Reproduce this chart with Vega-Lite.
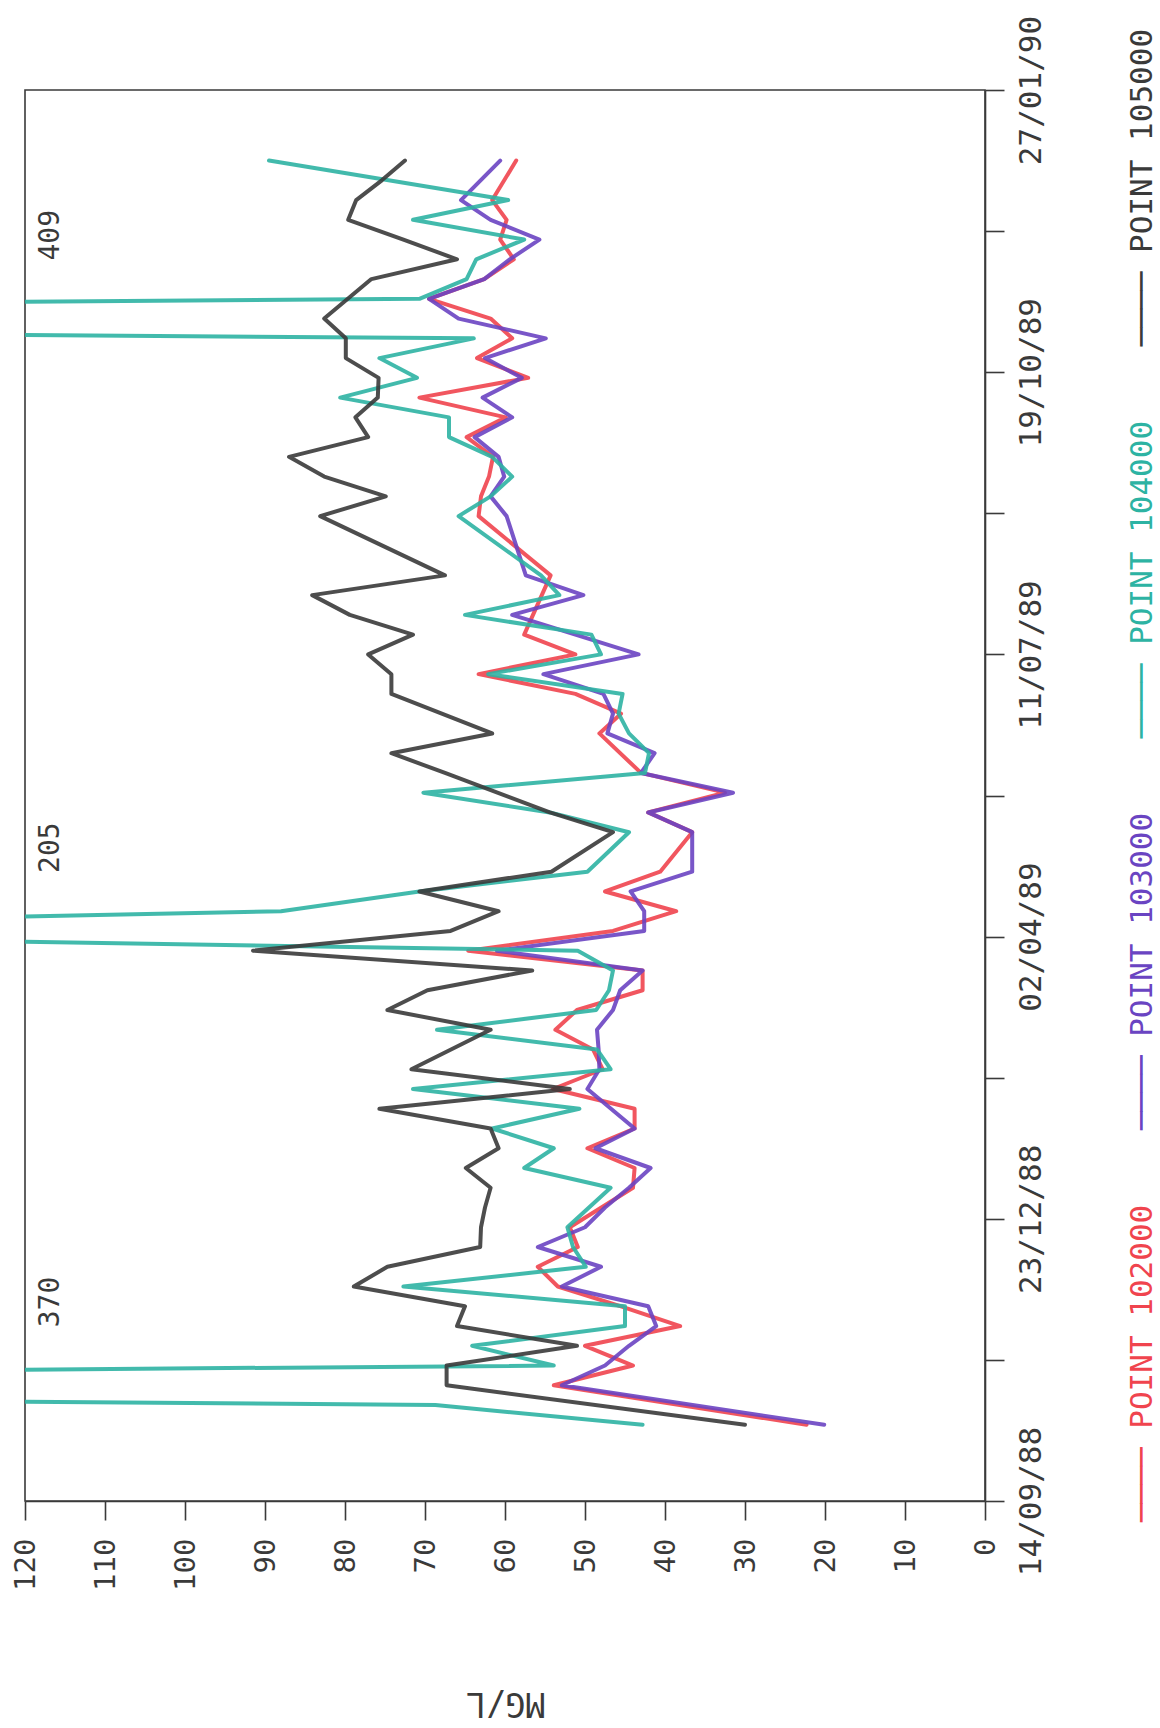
{
  "$schema": "https://vega.github.io/schema/vega-lite/v6.json",
  "width": 960,
  "height": 1411,
  "autosize": {"type": "none"},
  "padding": {"left": 25, "top": 90, "right": 175, "bottom": 227},
  "background": "white",
  "config": {
    "view": {"stroke": "#3a3a3a", "strokeWidth": 1.6},
    "font": "DejaVu Sans Mono",
    "text": {"font": "DejaVu Sans Mono"}
  },
  "datasets": {
    "obs": [
      {"date":"1988-10-11","series":"POINT 102000","value":22.3},
      {"date":"1988-10-25","series":"POINT 102000","value":53.9},
      {"date":"1988-11-01","series":"POINT 102000","value":44.0},
      {"date":"1988-11-08","series":"POINT 102000","value":50.0},
      {"date":"1988-11-15","series":"POINT 102000","value":38.1},
      {"date":"1988-11-22","series":"POINT 102000","value":45.5},
      {"date":"1988-11-29","series":"POINT 102000","value":53.4},
      {"date":"1988-12-06","series":"POINT 102000","value":55.9},
      {"date":"1988-12-13","series":"POINT 102000","value":50.9},
      {"date":"1988-12-20","series":"POINT 102000","value":51.9},
      {"date":"1989-01-03","series":"POINT 102000","value":44.0},
      {"date":"1989-01-10","series":"POINT 102000","value":43.8},
      {"date":"1989-01-17","series":"POINT 102000","value":49.7},
      {"date":"1989-01-24","series":"POINT 102000","value":43.8},
      {"date":"1989-01-31","series":"POINT 102000","value":43.8},
      {"date":"1989-02-07","series":"POINT 102000","value":54.0},
      {"date":"1989-02-14","series":"POINT 102000","value":47.8},
      {"date":"1989-02-21","series":"POINT 102000","value":49.0},
      {"date":"1989-02-28","series":"POINT 102000","value":53.7},
      {"date":"1989-03-07","series":"POINT 102000","value":51.0},
      {"date":"1989-03-14","series":"POINT 102000","value":42.8},
      {"date":"1989-03-21","series":"POINT 102000","value":42.8},
      {"date":"1989-03-28","series":"POINT 102000","value":64.6},
      {"date":"1989-04-04","series":"POINT 102000","value":46.5},
      {"date":"1989-04-11","series":"POINT 102000","value":38.6},
      {"date":"1989-04-18","series":"POINT 102000","value":47.5},
      {"date":"1989-04-25","series":"POINT 102000","value":40.6},
      {"date":"1989-05-09","series":"POINT 102000","value":36.6},
      {"date":"1989-05-16","series":"POINT 102000","value":42.1},
      {"date":"1989-05-23","series":"POINT 102000","value":32.5},
      {"date":"1989-05-30","series":"POINT 102000","value":43.0},
      {"date":"1989-06-13","series":"POINT 102000","value":48.2},
      {"date":"1989-06-20","series":"POINT 102000","value":45.5},
      {"date":"1989-06-27","series":"POINT 102000","value":51.2},
      {"date":"1989-07-04","series":"POINT 102000","value":63.3},
      {"date":"1989-07-11","series":"POINT 102000","value":51.2},
      {"date":"1989-07-18","series":"POINT 102000","value":57.6},
      {"date":"1989-08-08","series":"POINT 102000","value":54.3},
      {"date":"1989-08-29","series":"POINT 102000","value":63.3},
      {"date":"1989-09-05","series":"POINT 102000","value":63.0},
      {"date":"1989-09-12","series":"POINT 102000","value":62.0},
      {"date":"1989-09-19","series":"POINT 102000","value":61.5},
      {"date":"1989-09-26","series":"POINT 102000","value":64.8},
      {"date":"1989-10-03","series":"POINT 102000","value":59.9},
      {"date":"1989-10-10","series":"POINT 102000","value":70.7},
      {"date":"1989-10-17","series":"POINT 102000","value":57.1},
      {"date":"1989-10-24","series":"POINT 102000","value":63.5},
      {"date":"1989-10-31","series":"POINT 102000","value":59.1},
      {"date":"1989-11-07","series":"POINT 102000","value":61.8},
      {"date":"1989-11-14","series":"POINT 102000","value":69.5},
      {"date":"1989-11-21","series":"POINT 102000","value":62.6},
      {"date":"1989-11-28","series":"POINT 102000","value":58.9},
      {"date":"1989-12-05","series":"POINT 102000","value":60.6},
      {"date":"1989-12-12","series":"POINT 102000","value":59.8},
      {"date":"1989-12-19","series":"POINT 102000","value":61.6},
      {"date":"1990-01-02","series":"POINT 102000","value":58.6},

      {"date":"1988-10-11","series":"POINT 103000","value":20.1},
      {"date":"1988-10-25","series":"POINT 103000","value":52.9},
      {"date":"1988-11-01","series":"POINT 103000","value":47.5},
      {"date":"1988-11-08","series":"POINT 103000","value":44.5},
      {"date":"1988-11-15","series":"POINT 103000","value":41.1},
      {"date":"1988-11-22","series":"POINT 103000","value":42.1},
      {"date":"1988-11-29","series":"POINT 103000","value":52.9},
      {"date":"1988-12-06","series":"POINT 103000","value":48.0},
      {"date":"1988-12-13","series":"POINT 103000","value":55.9},
      {"date":"1988-12-20","series":"POINT 103000","value":50.0},
      {"date":"1988-12-27","series":"POINT 103000","value":47.5},
      {"date":"1989-01-03","series":"POINT 103000","value":44.5},
      {"date":"1989-01-10","series":"POINT 103000","value":41.8},
      {"date":"1989-01-17","series":"POINT 103000","value":48.7},
      {"date":"1989-01-24","series":"POINT 103000","value":43.8},
      {"date":"1989-02-07","series":"POINT 103000","value":49.7},
      {"date":"1989-02-14","series":"POINT 103000","value":48.2},
      {"date":"1989-02-21","series":"POINT 103000","value":48.3},
      {"date":"1989-02-28","series":"POINT 103000","value":48.5},
      {"date":"1989-03-07","series":"POINT 103000","value":46.5},
      {"date":"1989-03-14","series":"POINT 103000","value":45.6},
      {"date":"1989-03-21","series":"POINT 103000","value":42.8},
      {"date":"1989-03-28","series":"POINT 103000","value":61.0},
      {"date":"1989-04-04","series":"POINT 103000","value":42.6},
      {"date":"1989-04-11","series":"POINT 103000","value":42.6},
      {"date":"1989-04-18","series":"POINT 103000","value":44.3},
      {"date":"1989-04-25","series":"POINT 103000","value":36.6},
      {"date":"1989-05-09","series":"POINT 103000","value":36.6},
      {"date":"1989-05-16","series":"POINT 103000","value":42.1},
      {"date":"1989-05-23","series":"POINT 103000","value":31.5},
      {"date":"1989-05-30","series":"POINT 103000","value":43.0},
      {"date":"1989-06-06","series":"POINT 103000","value":41.3},
      {"date":"1989-06-13","series":"POINT 103000","value":47.2},
      {"date":"1989-06-20","series":"POINT 103000","value":46.5},
      {"date":"1989-06-27","series":"POINT 103000","value":47.7},
      {"date":"1989-07-04","series":"POINT 103000","value":55.2},
      {"date":"1989-07-11","series":"POINT 103000","value":43.3},
      {"date":"1989-07-25","series":"POINT 103000","value":59.1},
      {"date":"1989-08-01","series":"POINT 103000","value":50.2},
      {"date":"1989-08-08","series":"POINT 103000","value":57.4},
      {"date":"1989-08-29","series":"POINT 103000","value":59.8},
      {"date":"1989-09-05","series":"POINT 103000","value":61.8},
      {"date":"1989-09-12","series":"POINT 103000","value":60.1},
      {"date":"1989-09-19","series":"POINT 103000","value":60.8},
      {"date":"1989-09-26","series":"POINT 103000","value":63.8},
      {"date":"1989-10-03","series":"POINT 103000","value":59.1},
      {"date":"1989-10-10","series":"POINT 103000","value":62.8},
      {"date":"1989-10-17","series":"POINT 103000","value":57.9},
      {"date":"1989-10-24","series":"POINT 103000","value":62.5},
      {"date":"1989-10-31","series":"POINT 103000","value":54.9},
      {"date":"1989-11-07","series":"POINT 103000","value":65.8},
      {"date":"1989-11-14","series":"POINT 103000","value":69.5},
      {"date":"1989-11-21","series":"POINT 103000","value":62.6},
      {"date":"1989-11-28","series":"POINT 103000","value":59.4},
      {"date":"1989-12-05","series":"POINT 103000","value":55.7},
      {"date":"1989-12-12","series":"POINT 103000","value":61.8},
      {"date":"1989-12-19","series":"POINT 103000","value":65.5},
      {"date":"1990-01-02","series":"POINT 103000","value":60.6},

      {"date":"1988-10-11","series":"POINT 104000","value":42.8},
      {"date":"1988-10-18","series":"POINT 104000","value":68.7},
      {"date":"1988-10-25","series":"POINT 104000","value":370},
      {"date":"1988-11-01","series":"POINT 104000","value":53.9},
      {"date":"1988-11-08","series":"POINT 104000","value":64.1},
      {"date":"1988-11-15","series":"POINT 104000","value":45.0},
      {"date":"1988-11-22","series":"POINT 104000","value":45.0},
      {"date":"1988-11-29","series":"POINT 104000","value":72.7},
      {"date":"1988-12-06","series":"POINT 104000","value":49.9},
      {"date":"1988-12-13","series":"POINT 104000","value":51.5},
      {"date":"1988-12-20","series":"POINT 104000","value":52.2},
      {"date":"1989-01-03","series":"POINT 104000","value":46.8},
      {"date":"1989-01-10","series":"POINT 104000","value":57.6},
      {"date":"1989-01-17","series":"POINT 104000","value":53.9},
      {"date":"1989-01-24","series":"POINT 104000","value":61.6},
      {"date":"1989-01-31","series":"POINT 104000","value":50.7},
      {"date":"1989-02-07","series":"POINT 104000","value":71.5},
      {"date":"1989-02-14","series":"POINT 104000","value":46.8},
      {"date":"1989-02-21","series":"POINT 104000","value":48.5},
      {"date":"1989-02-28","series":"POINT 104000","value":68.5},
      {"date":"1989-03-07","series":"POINT 104000","value":48.6},
      {"date":"1989-03-14","series":"POINT 104000","value":47.0},
      {"date":"1989-03-21","series":"POINT 104000","value":46.5},
      {"date":"1989-03-28","series":"POINT 104000","value":50.9},
      {"date":"1989-04-04","series":"POINT 104000","value":205},
      {"date":"1989-04-11","series":"POINT 104000","value":88.0},
      {"date":"1989-04-18","series":"POINT 104000","value":70.7},
      {"date":"1989-04-25","series":"POINT 104000","value":49.7},
      {"date":"1989-05-09","series":"POINT 104000","value":44.5},
      {"date":"1989-05-16","series":"POINT 104000","value":54.4},
      {"date":"1989-05-23","series":"POINT 104000","value":70.2},
      {"date":"1989-05-30","series":"POINT 104000","value":42.5},
      {"date":"1989-06-06","series":"POINT 104000","value":42.0},
      {"date":"1989-06-13","series":"POINT 104000","value":44.5},
      {"date":"1989-06-20","series":"POINT 104000","value":45.8},
      {"date":"1989-06-27","series":"POINT 104000","value":45.3},
      {"date":"1989-07-04","series":"POINT 104000","value":62.1},
      {"date":"1989-07-11","series":"POINT 104000","value":48.0},
      {"date":"1989-07-18","series":"POINT 104000","value":49.2},
      {"date":"1989-07-25","series":"POINT 104000","value":65.0},
      {"date":"1989-08-01","series":"POINT 104000","value":53.2},
      {"date":"1989-08-08","series":"POINT 104000","value":55.5},
      {"date":"1989-08-29","series":"POINT 104000","value":65.8},
      {"date":"1989-09-05","series":"POINT 104000","value":61.8},
      {"date":"1989-09-12","series":"POINT 104000","value":59.1},
      {"date":"1989-09-19","series":"POINT 104000","value":61.6},
      {"date":"1989-09-26","series":"POINT 104000","value":67.0},
      {"date":"1989-10-03","series":"POINT 104000","value":67.0},
      {"date":"1989-10-10","series":"POINT 104000","value":80.6},
      {"date":"1989-10-17","series":"POINT 104000","value":71.0},
      {"date":"1989-10-24","series":"POINT 104000","value":75.7},
      {"date":"1989-10-31","series":"POINT 104000","value":63.9},
      {"date":"1989-11-07","series":"POINT 104000","value":409},
      {"date":"1989-11-14","series":"POINT 104000","value":70.7},
      {"date":"1989-11-21","series":"POINT 104000","value":64.8},
      {"date":"1989-11-28","series":"POINT 104000","value":63.6},
      {"date":"1989-12-05","series":"POINT 104000","value":57.6},
      {"date":"1989-12-12","series":"POINT 104000","value":71.5},
      {"date":"1989-12-19","series":"POINT 104000","value":59.6},
      {"date":"1990-01-02","series":"POINT 104000","value":89.5},

      {"date":"1988-10-11","series":"POINT 105000","value":30.0},
      {"date":"1988-10-25","series":"POINT 105000","value":67.3},
      {"date":"1988-11-01","series":"POINT 105000","value":67.3},
      {"date":"1988-11-08","series":"POINT 105000","value":51.0},
      {"date":"1988-11-15","series":"POINT 105000","value":66.0},
      {"date":"1988-11-22","series":"POINT 105000","value":65.0},
      {"date":"1988-11-29","series":"POINT 105000","value":78.9},
      {"date":"1988-12-06","series":"POINT 105000","value":74.7},
      {"date":"1988-12-13","series":"POINT 105000","value":63.1},
      {"date":"1988-12-20","series":"POINT 105000","value":63.0},
      {"date":"1988-12-27","series":"POINT 105000","value":62.5},
      {"date":"1989-01-03","series":"POINT 105000","value":61.8},
      {"date":"1989-01-10","series":"POINT 105000","value":64.9},
      {"date":"1989-01-17","series":"POINT 105000","value":60.8},
      {"date":"1989-01-24","series":"POINT 105000","value":61.8},
      {"date":"1989-01-31","series":"POINT 105000","value":75.7},
      {"date":"1989-02-07","series":"POINT 105000","value":51.9},
      {"date":"1989-02-14","series":"POINT 105000","value":71.7},
      {"date":"1989-02-28","series":"POINT 105000","value":61.8},
      {"date":"1989-03-07","series":"POINT 105000","value":74.7},
      {"date":"1989-03-14","series":"POINT 105000","value":69.7},
      {"date":"1989-03-21","series":"POINT 105000","value":56.6},
      {"date":"1989-03-28","series":"POINT 105000","value":91.5},
      {"date":"1989-04-04","series":"POINT 105000","value":66.8},
      {"date":"1989-04-11","series":"POINT 105000","value":60.8},
      {"date":"1989-04-18","series":"POINT 105000","value":70.7},
      {"date":"1989-04-25","series":"POINT 105000","value":54.2},
      {"date":"1989-05-09","series":"POINT 105000","value":46.5},
      {"date":"1989-05-16","series":"POINT 105000","value":54.4},
      {"date":"1989-05-30","series":"POINT 105000","value":67.5},
      {"date":"1989-06-06","series":"POINT 105000","value":74.2},
      {"date":"1989-06-13","series":"POINT 105000","value":61.6},
      {"date":"1989-06-27","series":"POINT 105000","value":74.2},
      {"date":"1989-07-04","series":"POINT 105000","value":74.2},
      {"date":"1989-07-11","series":"POINT 105000","value":77.1},
      {"date":"1989-07-18","series":"POINT 105000","value":71.5},
      {"date":"1989-07-25","series":"POINT 105000","value":79.4},
      {"date":"1989-08-01","series":"POINT 105000","value":84.1},
      {"date":"1989-08-08","series":"POINT 105000","value":67.5},
      {"date":"1989-08-29","series":"POINT 105000","value":83.1},
      {"date":"1989-09-05","series":"POINT 105000","value":74.9},
      {"date":"1989-09-12","series":"POINT 105000","value":82.6},
      {"date":"1989-09-19","series":"POINT 105000","value":87.0},
      {"date":"1989-09-26","series":"POINT 105000","value":77.1},
      {"date":"1989-10-03","series":"POINT 105000","value":78.7},
      {"date":"1989-10-10","series":"POINT 105000","value":75.9},
      {"date":"1989-10-17","series":"POINT 105000","value":75.8},
      {"date":"1989-10-24","series":"POINT 105000","value":79.9},
      {"date":"1989-10-31","series":"POINT 105000","value":79.9},
      {"date":"1989-11-07","series":"POINT 105000","value":82.6},
      {"date":"1989-11-21","series":"POINT 105000","value":76.7},
      {"date":"1989-11-28","series":"POINT 105000","value":66.0},
      {"date":"1989-12-05","series":"POINT 105000","value":72.7},
      {"date":"1989-12-12","series":"POINT 105000","value":79.6},
      {"date":"1989-12-19","series":"POINT 105000","value":78.6},
      {"date":"1989-12-26","series":"POINT 105000","value":75.4},
      {"date":"1990-01-02","series":"POINT 105000","value":72.5}
    ],
    "legend": [
      {"series":"POINT 105000","label":"────  POINT 105000"},
      {"series":"POINT 104000","label":"────  POINT 104000"},
      {"series":"POINT 103000","label":"────  POINT 103000"},
      {"series":"POINT 102000","label":"────  POINT 102000"}
    ]
  },
  "layer": [
    {
      "layer": [
        {
          "data": {"name": "obs"},
          "mark": {"type": "line", "clip": true, "strokeWidth": 4, "strokeJoin": "round", "strokeCap": "round", "opacity": 0.9},
          "encoding": {
            "x": {
              "field": "value", "type": "quantitative",
              "scale": {"domain": [0, 120], "reverse": true, "nice": false, "zero": false},
              "axis": {
                "title": "MG/L",
                "orient": "bottom",
                "values": [0, 10, 20, 30, 40, 50, 60, 70, 80, 90, 100, 110, 120],
                "grid": false,
                "labelAngle": -90, "labelAlign": "right", "labelBaseline": "middle",
                "labelFont": "DejaVu Sans Mono", "labelFontSize": 29, "labelColor": "#3a3a3a",
                "labelPadding": 18, "labelOverlap": false, "labelFlush": false,
                "tickSize": 19, "tickColor": "#3a3a3a", "tickWidth": 1.6,
                "domainColor": "#3a3a3a", "domainWidth": 1.6,
                "titleAngle": 180, "titleBaseline": "bottom", "titleAlign": "center",
                "titleFont": "DejaVu Sans Mono", "titleFontSize": 33, "titleFontWeight": "normal",
                "titleColor": "#3a3a3a", "titlePadding": 95
              }
            },
            "y": {
              "field": "date", "type": "temporal",
              "scale": {
                "type": "utc", "nice": false,
                "domain": [{"year": 1988, "month": 9, "date": 14, "utc": true}, {"year": 1990, "month": 1, "date": 27, "utc": true}]
              },
              "axis": {
                "orient": "right",
                "title": null,
                "grid": false,
                "values": [
                  {"year": 1988, "month": 9, "date": 14, "utc": true},
                  {"year": 1988, "month": 11, "date": 3, "utc": true},
                  {"year": 1988, "month": 12, "date": 23, "utc": true},
                  {"year": 1989, "month": 2, "date": 11, "utc": true},
                  {"year": 1989, "month": 4, "date": 2, "utc": true},
                  {"year": 1989, "month": 5, "date": 22, "utc": true},
                  {"year": 1989, "month": 7, "date": 11, "utc": true},
                  {"year": 1989, "month": 8, "date": 30, "utc": true},
                  {"year": 1989, "month": 10, "date": 19, "utc": true},
                  {"year": 1989, "month": 12, "date": 8, "utc": true},
                  {"year": 1990, "month": 1, "date": 27, "utc": true}
                ],
                "labelExpr": "round((datum.value - utc(1988, 8, 14)) / 86400000) % 100 == 0 ? utcFormat(datum.value, '%d/%m/%y') : ''",
                "labelAngle": -90, "labelAlign": "center", "labelBaseline": "top",
                "labelFont": "DejaVu Sans Mono", "labelFontSize": 31, "labelColor": "#3a3a3a",
                "labelPadding": 12, "labelOverlap": false, "labelFlush": false,
                "tickSize": 19, "tickColor": "#3a3a3a", "tickWidth": 1.6,
                "domainColor": "#3a3a3a", "domainWidth": 1.6
              }
            },
            "color": {
              "field": "series", "type": "nominal",
              "scale": {
                "domain": ["POINT 102000", "POINT 103000", "POINT 104000", "POINT 105000"],
                "range": ["#f0444e", "#6a44c2", "#2db3a3", "#3a3a3a"]
              },
              "legend": null
            },
            "order": {"field": "date", "type": "temporal"}
          }
        },
        {
          "data": {"name": "obs"},
          "transform": [{"filter": "datum.value > 120"}],
          "mark": {"type": "text", "angle": -90, "align": "left", "baseline": "middle", "dx": 58, "fontSize": 28, "color": "#3a3a3a", "font": "DejaVu Sans Mono"},
          "encoding": {
            "x": {"datum": 116.8, "type": "quantitative", "scale": {"domain": [0, 120], "reverse": true, "nice": false, "zero": false}},
            "y": {"field": "date", "type": "temporal"},
            "text": {"field": "value", "type": "quantitative", "format": "d"}
          }
        }
      ]
    },
    {
      "data": {"name": "legend"},
      "mark": {"type": "text", "angle": -90, "align": "center", "baseline": "middle", "dx": 20, "fontSize": 31, "font": "DejaVu Sans Mono"},
      "encoding": {
        "x": {"datum": -19.7, "type": "quantitative", "scale": {"domain": [0, 120], "reverse": true, "nice": false, "zero": false}},
        "y": {
          "field": "series", "type": "ordinal",
          "scale": {"type": "point", "padding": 0.3, "domain": ["POINT 105000", "POINT 104000", "POINT 103000", "POINT 102000"]},
          "axis": null
        },
        "text": {"field": "label"},
        "color": {"field": "series", "type": "nominal", "legend": null}
      }
    }
  ],
  "resolve": {"scale": {"y": "independent"}}
}
